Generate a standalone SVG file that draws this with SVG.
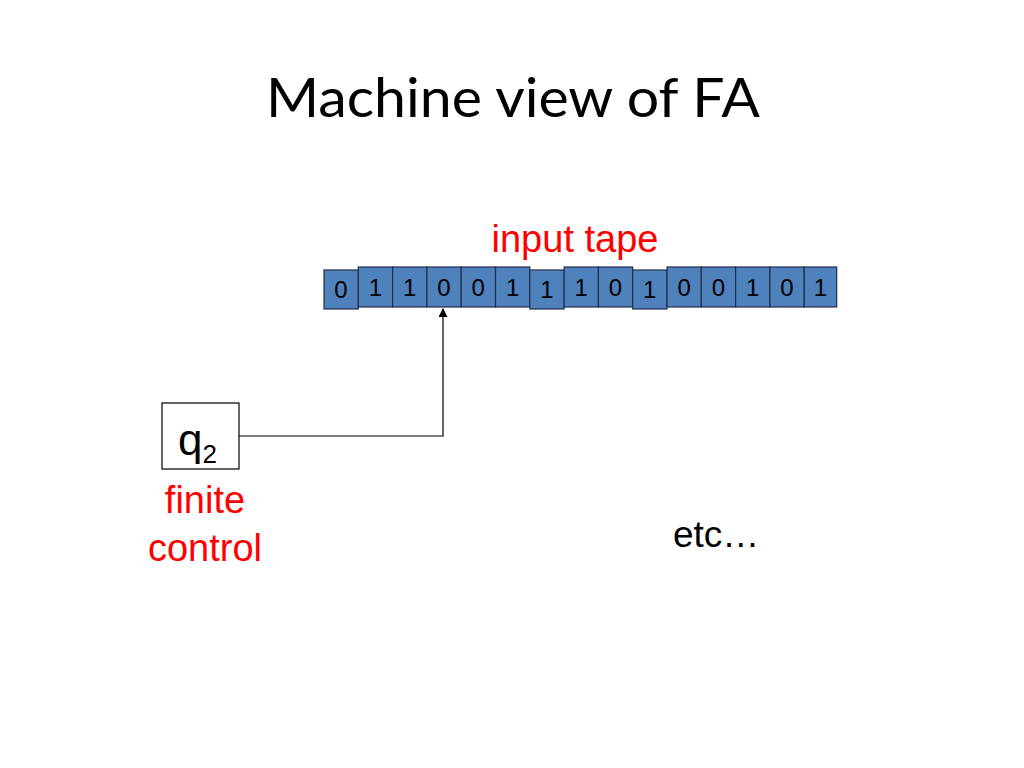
<svg xmlns="http://www.w3.org/2000/svg" width="1024" height="768" viewBox="0 0 1024 768">
<style>
.cell{fill:#4f81bd;stroke:#1f2f4a;stroke-width:1.2}
.d{font-family:"Liberation Sans",Arial,sans-serif;font-size:24px;fill:#000;text-anchor:middle}
.red{font-family:"Liberation Sans",Arial,sans-serif;font-size:38px;fill:#ff0000;text-anchor:middle}
.conn{fill:none;stroke:#000;stroke-width:1.2}
</style>
<defs>
<marker id="ah" viewBox="0 0 10 10" refX="9" refY="5" markerWidth="9" markerHeight="9" markerUnits="userSpaceOnUse" orient="auto">
<path d="M0,0 L10,5 L0,10 z" fill="#000"/>
</marker>
</defs>
<rect width="1024" height="768" fill="#fff"/>
<text x="513" y="117" font-family="Lato,'Open Sans',sans-serif" font-size="54" text-anchor="middle" textLength="494" lengthAdjust="spacingAndGlyphs" fill="#000">Machine view of FA</text>
<text class="red" x="575" y="252">input tape</text>
<g id="tape">
<rect class="cell" x="324" y="270" width="34.3" height="39"/><text class="d" x="341" y="298">0</text>
<rect class="cell" x="358.3" y="267" width="34.3" height="40"/><text class="d" x="375.5" y="296">1</text>
<rect class="cell" x="392.6" y="267" width="34.3" height="40"/><text class="d" x="409.8" y="296">1</text>
<rect class="cell" x="426.9" y="267" width="34.3" height="40"/><text class="d" x="444" y="296">0</text>
<rect class="cell" x="461.2" y="267" width="34.3" height="40"/><text class="d" x="478.3" y="296">0</text>
<rect class="cell" x="495.5" y="267" width="34.3" height="40"/><text class="d" x="512.6" y="296">1</text>
<rect class="cell" x="529.8" y="270" width="34.3" height="39"/><text class="d" x="546.9" y="298">1</text>
<rect class="cell" x="564.1" y="267" width="34.3" height="40"/><text class="d" x="581.2" y="296">1</text>
<rect class="cell" x="598.4" y="267" width="34.3" height="40"/><text class="d" x="615.5" y="296">0</text>
<rect class="cell" x="632.7" y="270" width="34.3" height="39"/><text class="d" x="649.8" y="298">1</text>
<rect class="cell" x="667" y="267" width="34.3" height="40"/><text class="d" x="684.1" y="296">0</text>
<rect class="cell" x="701.3" y="267" width="34.3" height="40"/><text class="d" x="718.4" y="296">0</text>
<rect class="cell" x="735.6" y="267" width="34.3" height="40"/><text class="d" x="752.7" y="296">1</text>
<rect class="cell" x="769.9" y="267" width="34.3" height="40"/><text class="d" x="787" y="296">0</text>
<rect class="cell" x="804.2" y="267" width="32.5" height="40"/><text class="d" x="820.5" y="296">1</text>
</g>
<g id="control">
<rect x="162" y="403" width="77" height="66" fill="#fff" stroke="#000" stroke-width="1.2"/>
<text x="178" y="455" font-family="'Liberation Sans',Arial,sans-serif" font-size="44" fill="#000">q<tspan font-size="26" dy="8">2</tspan></text>
<text class="red" x="205" y="513">finite</text>
<text class="red" x="205" y="561">control</text>
</g>
<g id="connectors">
<path class="conn" d="M239,436 H443 V309" marker-end="url(#ah)"/>
</g>
<text x="673" y="547" font-family="'Liberation Sans',Arial,sans-serif" font-size="37" fill="#000">etc…</text>
</svg>
